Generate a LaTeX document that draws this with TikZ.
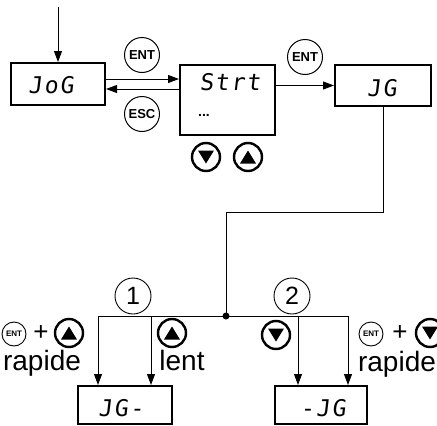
\documentclass[tikz,border=0pt]{standalone}
\usepackage{fontspec}
\setmainfont{Liberation Sans}
\newfontfamily\segfont[FakeSlant=0.12, LetterSpace=8]{DejaVu Sans Mono}
\usetikzlibrary{arrows.meta,calc}
\begin{document}
\begin{tikzpicture}[x=1pt,y=-1pt,
 box/.style={draw, line width=2pt, inner sep=0pt},
 arr/.style={line width=0.9pt, -{Triangle[length=11pt,width=8pt]}},
 ln/.style={line width=0.9pt},
 key/.style={circle, draw, line width=1pt, inner sep=0pt, minimum size=35pt, font=\fontsize{13}{13}\selectfont\bfseries},
 skey/.style={circle, draw, line width=0.9pt, inner sep=0pt, minimum size=24pt, font=\fontsize{8}{8}\selectfont\bfseries},
 btn/.style={circle, draw, line width=2.4pt, inner sep=0pt, minimum size=28pt},
 upbtn/.style={btn, path picture={\fill ([yshift=6.5pt]path picture bounding box.center) -- ++(-8pt,-13pt) -- ++(16pt,0pt) -- cycle;}},
 dnbtn/.style={btn, path picture={\fill ([yshift=-6.5pt]path picture bounding box.center) -- ++(-8pt,13pt) -- ++(16pt,0pt) -- cycle;}},
 num/.style={circle, draw, line width=0.9pt, inner sep=0pt, minimum size=36pt, font=\fontsize{25}{25}\selectfont},
 lbl/.style={font=\fontsize{28}{28}\selectfont, inner sep=0pt, anchor=base},
 plus/.style={font=\fontsize{26}{26}\selectfont, inner sep=0pt, text height=13pt, text depth=0pt},
 seg/.style={font=\segfont\fontsize{23}{23}\selectfont, inner sep=0pt}
]
\useasboundingbox (0,0) rectangle (437,426);
% display boxes
\node[box, minimum width=94pt, minimum height=42pt] (jog) at (58,84) {};
\node[box, minimum width=95pt, minimum height=70pt] (strt) at (227.5,100) {};
\node[box, minimum width=96pt, minimum height=41pt] (jg) at (383,85.5) {};
\node[box, minimum width=94pt, minimum height=38pt] (jgm) at (125,405) {};
\node[box, minimum width=92pt, minimum height=38pt] (mjg) at (321,405) {};
% display texts
\node[seg] (tjog) at (51,85) {JoG};
\node[seg] (tstrt) at (230,82) {Strt};
\node[font=\fontsize{14}{14}\selectfont\bfseries, inner sep=0pt] (tdots) at (204,115) {...};
\node[seg] (tjg) at (382,88) {JG};
\node[seg] (tjgm) at (121,408) {JG-};
\node[seg] (tmjg) at (323,408) {-JG};
% top flow
\coordinate (start) at (58,7);
\draw[arr] (start) -- (jog.north);
\draw[arr] ([yshift=5pt]jog.east) -- ([yshift=5pt]jog.east -| strt.west);
\draw[arr] ([yshift=-5pt]jog.east -| strt.west) -- ([yshift=-5pt]jog.east);
\draw[arr] (strt.east |- jg.west) -- (jg.west);
\node[key] (ent1) at (142,55) {ENT};
\node[key] (esc1) at (142,114) {ESC};
\node[key] (ent2) at (305,57) {ENT};
\node[dnbtn] (dn1) at (206,157) {};
\node[upbtn] (up1) at (248,157) {};
% branch
\coordinate (bend1) at (383,212);
\coordinate (bend2) at (226,212);
\coordinate (junc) at (226,316);
\coordinate (b1) at (98,316);
\coordinate (b2) at (151,316);
\coordinate (b3) at (298,316);
\coordinate (b4) at (348,316);
\draw[ln] (jg.south) -- (bend1) -- (bend2) -- (junc);
\draw[ln] (b1) -- (b4);
\fill (junc) circle[radius=3.5pt];
\draw[arr] (b1) -- (b1 |- jgm.north);
\draw[arr] (b2) -- (b2 |- jgm.north);
\draw[arr] (b3) -- (b3 |- mjg.north);
\draw[arr] (b4) -- (b4 |- mjg.north);
\node[num] (n1) at (133,296) {1};
\node[num] (n2) at (292,296) {2};
% labels left
\node[skey] (ent3) at (14,334) {ENT};
\node[plus] (plus1) at (41,334) {+};
\node[upbtn] (up2) at (69,333) {};
\node[lbl] (rap1) at (42,370) {rapide};
\node[upbtn] (up3) at (172,333) {};
\node[lbl] (lent) at (182,370) {lent};
% labels right
\node[dnbtn] (dn2) at (276,335) {};
\node[skey] (ent4) at (371,334) {ENT};
\node[plus] (plus2) at (400,334) {+};
\node[dnbtn] (dn3) at (430,333) {};
\node[lbl] (rap2) at (397,371) {rapide};
\end{tikzpicture}
\end{document}
